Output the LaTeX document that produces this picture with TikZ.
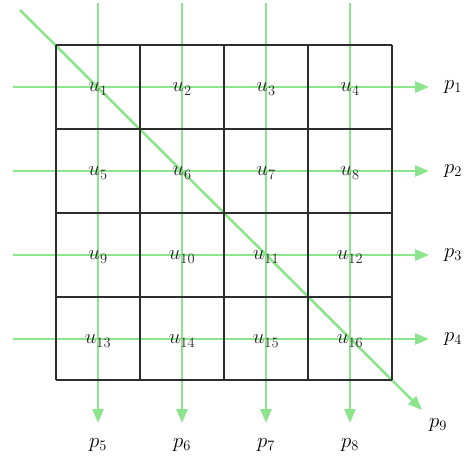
\documentclass[tikz,border=0pt]{standalone}
\usetikzlibrary{arrows.meta}
\definecolor{lgreen}{RGB}{140,228,140}
\definecolor{gridc}{RGB}{45,45,45}
\begin{document}
\begin{tikzpicture}[x=1pt,y=-1pt,
  flow/.style={draw=lgreen,line width=2.6pt,-{Triangle[length=14pt,width=11pt]}},
  gridline/.style={draw=gridc,line width=2pt},
  lab/.style={font=\fontsize{22}{26}\selectfont,inner sep=0pt},
  cell/.style={font=\fontsize{22}{26}\selectfont,inner sep=0pt,text=black!85}]
\useasboundingbox (0,0) rectangle (466,458);
% green flows
\foreach \i/\y in {1/87,2/171,3/255,4/339}{
  \coordinate (hs\i) at (13,\y);
  \coordinate (he\i) at (429,\y);
  \node[lab] (p\i) at (453,\y) {$p_{\i}$};
  \draw[flow] (hs\i) -- (he\i);
}
\foreach \i/\x in {5/98,6/182,7/266,8/350}{
  \coordinate (vs\i) at (\x,3);
  \coordinate (ve\i) at (\x,423);
  \node[lab] (p\i) at (\x,445) {$p_{\i}$};
  \draw[flow] (vs\i) -- (ve\i);
}
\coordinate (ds) at (20,10);
\coordinate (de) at (422,410);
\node[lab] (p9) at (438,425) {$p_{9}$};
\draw[flow] (ds) -- (de);
% grid
\foreach \k in {56,140,224,308,392}{
  \draw[gridline] (\k,45) -- (\k,380);
}
\foreach \k in {45,129,213,297,380}{
  \draw[gridline] (56,\k) -- (392,\k);
}
% cell labels
\foreach \r in {0,1,2,3}{
  \foreach \c in {0,1,2,3}{
    \pgfmathtruncatemacro{\n}{4*\r+\c+1}
    \node[cell] (u\n) at (98+84*\c,89+84*\r) {$u_{\n}$};
  }
}
\end{tikzpicture}
\end{document}
